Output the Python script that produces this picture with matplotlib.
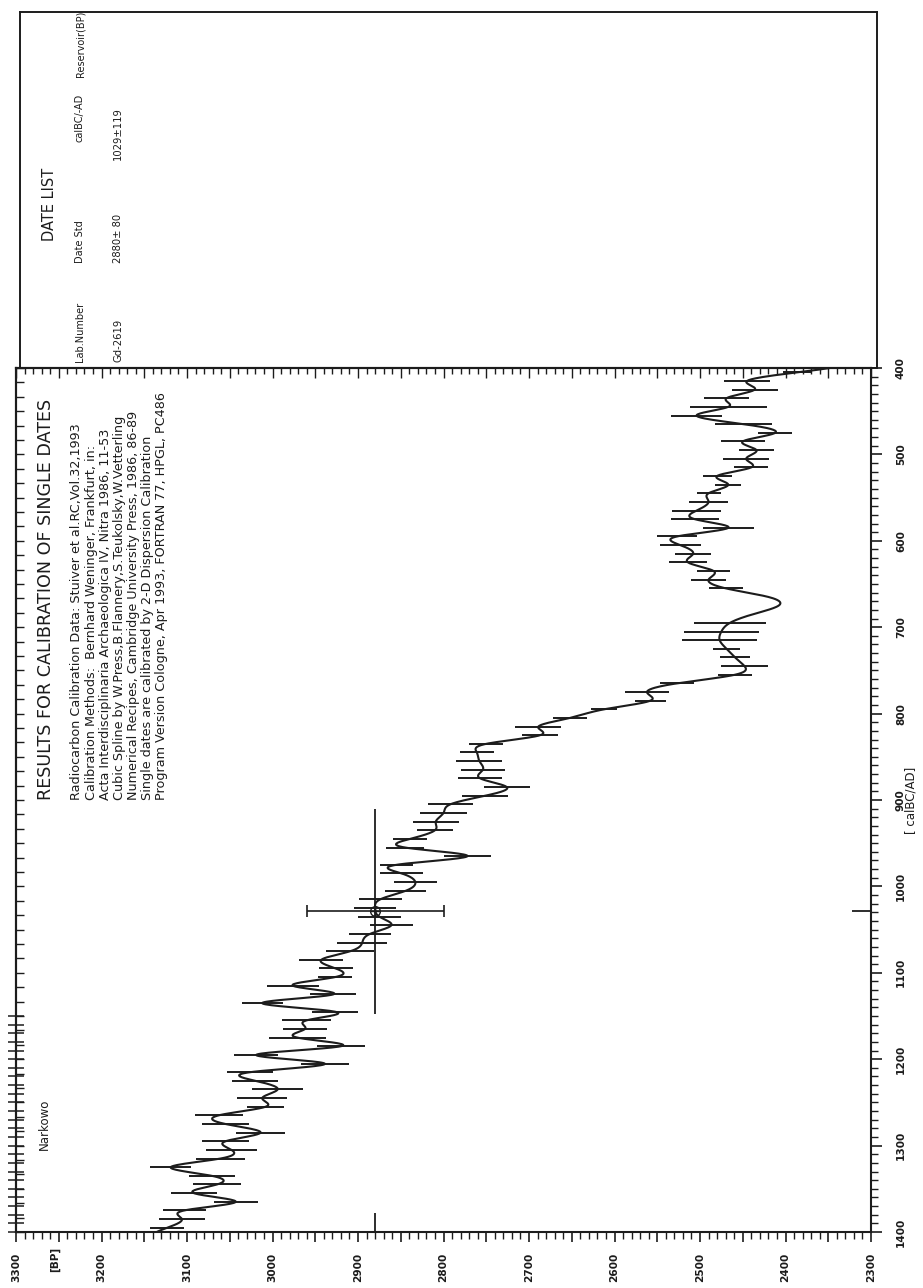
import numpy as np
import matplotlib
matplotlib.use("Agg")
import matplotlib.pyplot as plt
from matplotlib.ticker import MultipleLocator, FixedLocator, FuncFormatter

W, H = 923, 1288

# decadal calibration points: calBC and 14C age (BP) with 1-sigma
cal_bc = np.arange(405, 1400, 10)
bp = np.array([
    2386, 2445, 2436, 2469, 2467, 2504, 2449, 2412, 2450, 2434,
    2446, 2440, 2480, 2467, 2490, 2490, 2504, 2506, 2467, 2527,
    2523, 2508, 2514, 2484, 2490, 2470, 2420, 2408, 2438, 2465,
    2475, 2477, 2469, 2459, 2448, 2459, 2527, 2562, 2558, 2612,
    2652, 2689, 2687, 2750, 2761, 2758, 2754, 2757, 2726, 2751,
    2792, 2800, 2809, 2810, 2839, 2845, 2772, 2855, 2849, 2833,
    2844, 2874, 2880, 2875, 2861, 2886, 2895, 2909, 2943, 2926,
    2927, 2976, 2929, 3012, 2927, 2960, 2962, 2971, 2920, 3019,
    2939, 3026, 3020, 2994, 3012, 3008, 3063, 3055, 3014, 3055,
    3048, 3061, 3119, 3071, 3065, 3092, 3043, 3103, 3106, 3123,
])
bp_err = np.array([
    17, 27, 27, 26, 45, 30, 33, 20, 26, 20,
    27, 20, 17, 15, 14, 23, 29, 28, 30, 23,
    24, 21, 22, 19, 20, 20, 0, 0, 0, 42,
    44, 44, 16, 18, 27, 20, 20, 26, 18, 15,
    20, 27, 21, 20, 20, 27, 26, 26, 27, 27,
    26, 27, 27, 21, 20, 22, 27, 19, 25, 25,
    24, 25, 25, 25, 25, 25, 29, 28, 26, 20,
    20, 30, 27, 24, 27, 29, 26, 33, 28, 26,
    28, 27, 27, 30, 29, 22, 28, 27, 29, 28,
    30, 29, 24, 27, 28, 27, 26, 25, 27, 20,
])

# the single date
lab_no = "Gd-2619"
date_bp, date_std = 2880, 80
date_cal, date_cal_std = 1029, 119
site = "Narkowo"

cal_ticks = np.arange(400, 1401, 100)

title = "RESULTS FOR CALIBRATION OF SINGLE DATES"
info_lines = [
    "Radiocarbon Calibration Data: Stuiver et al.RC,Vol.32,1993",
    "Calibration Methods:  Bernhard Weninger, Frankfurt, in:",
    "Acta Interdisciplinaria Archaeologica IV, Nitra 1986, 11-53",
    "Cubic Spline by W.Press,B.Flannery,S.Teukolsky,W.Vetterling",
    "Numerical Recipes, Cambridge University Press, 1986, 86-89",
    "Single dates are calibrated by 2-D Dispersion Calibration",
    "Program Version Cologne, Apr 1993, FORTRAN 77, HPGL, PC486",
]

INK = "#1c1c1c"


def natural_spline(x, y, xs):
    n = len(x)
    h = np.diff(x).astype(float)
    A = np.zeros((n, n))
    r = np.zeros(n)
    A[0, 0] = A[-1, -1] = 1.0
    for i in range(1, n - 1):
        A[i, i - 1] = h[i - 1]
        A[i, i] = 2 * (h[i - 1] + h[i])
        A[i, i + 1] = h[i]
        r[i] = 6 * ((y[i + 1] - y[i]) / h[i] - (y[i] - y[i - 1]) / h[i - 1])
    m = np.linalg.solve(A, r)
    idx = np.clip(np.searchsorted(x, xs) - 1, 0, n - 2)
    x0, x1 = x[idx], x[idx + 1]
    hh = x1 - x0
    a = (x1 - xs) / hh
    b = (xs - x0) / hh
    return a * y[idx] + b * y[idx + 1] + ((a**3 - a) * m[idx] + (b**3 - b) * m[idx + 1]) * hh**2 / 6


def ftext(x, y, s, **kw):
    # position in pixels of the page, text reads bottom-to-top
    kw.setdefault("rotation", 90)
    kw.setdefault("color", INK)
    fig.text(x / W, 1 - y / H, s, **kw)


fig = plt.figure(figsize=(W / 100, H / 100), dpi=100)
fig.patch.set_facecolor("white")

# date list panel
box = fig.add_axes([20 / W, 1 - 368 / H, 857 / W, 356 / H])
box.set_xticks([])
box.set_yticks([])
for s in box.spines.values():
    s.set_linewidth(1.4)
    s.set_color(INK)

ax = fig.add_axes([16 / W, 1 - 1232 / H, 855 / W, 864 / H])
ax.set_facecolor("none")
ax.set_xlim(3300, 2300)
ax.set_ylim(1400, 400)
for s in ax.spines.values():
    s.set_linewidth(1.5)
    s.set_color(INK)

# bottom: BP axis
ax.xaxis.set_major_locator(MultipleLocator(50))
ax.xaxis.set_minor_locator(MultipleLocator(10))
ax.xaxis.set_major_formatter(FuncFormatter(lambda v, p: f"{v:.0f}" if round(v) % 100 == 0 else ""))
ax.tick_params(axis="x", which="major", direction="out", length=7, width=1.2, color=INK,
               labelsize=7.6, labelrotation=90, pad=8, labelcolor=INK)
ax.tick_params(axis="x", which="minor", direction="out", length=5, width=1.0, color=INK)
for t in ax.get_xticklabels():
    t.set_fontweight("bold")

# right: calBC axis
ax.yaxis.tick_right()
ax.yaxis.set_major_locator(FixedLocator(cal_ticks))
ax.yaxis.set_minor_locator(MultipleLocator(10))
ax.tick_params(axis="y", which="major", direction="out", length=8, width=1.2, color=INK,
               labelsize=7.6, labelrotation=90, pad=10, labelcolor=INK)
ax.tick_params(axis="y", which="minor", direction="out", length=5, width=1.0, color=INK)
for t in ax.get_yticklabels():
    t.set_fontweight("bold")
    t.set_va("center")

# top spine ticks pointing into the plot
top = ax.secondary_xaxis("top")
top.xaxis.set_major_locator(MultipleLocator(50))
top.xaxis.set_minor_locator(MultipleLocator(10))
top.tick_params(which="major", direction="in", length=7, width=1.0, color=INK, labeltop=False)
top.tick_params(which="minor", direction="in", length=4.5, width=1.0, color=INK)
top.spines["top"].set_linewidth(1.5)

# left spine ticks pointing into the plot
left = ax.secondary_yaxis("left")
left.yaxis.set_major_locator(FixedLocator(np.linspace(400, 1400, 61)))
left.yaxis.set_minor_locator(FixedLocator([]))
left.tick_params(which="major", direction="in", length=6, width=1.0, color=INK, labelleft=False)
left.spines["left"].set_linewidth(1.5)

# crossing marks on the left spine
plus_cal = np.arange(1150, 1401, 10)
ax.hlines(plus_cal, -0.009, 0.009, transform=ax.get_yaxis_transform(),
          color=INK, lw=1.1, clip_on=False)

# calibration curve with error bars
cal_grid = np.linspace(400, 1400, 2001)
ax.plot(natural_spline(cal_bc.astype(float), bp.astype(float), cal_grid), cal_grid,
        color=INK, lw=1.5)
has_bar = bp_err > 0
ax.hlines(cal_bc[has_bar], (bp - bp_err)[has_bar], (bp + bp_err)[has_bar], color=INK, lw=1.4)

# the date
ax.vlines(date_bp, date_cal - date_cal_std, date_cal + date_cal_std, color=INK, lw=1.3)
ax.errorbar(date_bp, date_cal, xerr=date_std, fmt="o", ms=7, mfc="none", mec=INK,
            ecolor=INK, elinewidth=1.2, capsize=4, capthick=1.2)
ax.plot(date_bp, date_cal, marker="+", ms=7, color=INK, mew=1.0)
ax.vlines(date_bp, 0, 0.022, transform=ax.get_xaxis_transform(), color=INK, lw=1.3)
ax.hlines(date_cal, 0.978, 1.0, transform=ax.get_yaxis_transform(), color=INK, lw=1.3)

# texts
ftext(55, 1272, "[BP]", ha="center", va="bottom", fontsize=7.6, fontweight="bold")
ftext(911, 800, "[ calBC/AD]", ha="center", va="center", fontsize=8.5)
ftext(46, 800, title, ha="center", va="bottom", fontsize=12.6)
for i, line in enumerate(info_lines):
    ftext(77 + i * 14.1, 800, line, ha="center", va="bottom", fontsize=9.2)
ftext(44, 1150, site, ha="center", va="bottom", fontsize=8.5)

ftext(49, 204, "DATE LIST", ha="center", va="center", fontsize=10.5)
header = [("Lab.Number", 362), ("Date Std", 263), ("calBC/-AD", 142), ("Reservoir(BP)", 77)]
for s, y0 in header:
    ftext(80, y0, s, ha="center", va="bottom", fontsize=7.0)
row = [(lab_no, 362), (f"{date_bp}\u00b1 {date_std}", 263), (f"{date_cal}\u00b1{date_cal_std}", 160)]
for s, y0 in row:
    ftext(118, y0, s, ha="center", va="bottom", fontsize=7.2)

fig.savefig("out.png", dpi=100, facecolor="white")
